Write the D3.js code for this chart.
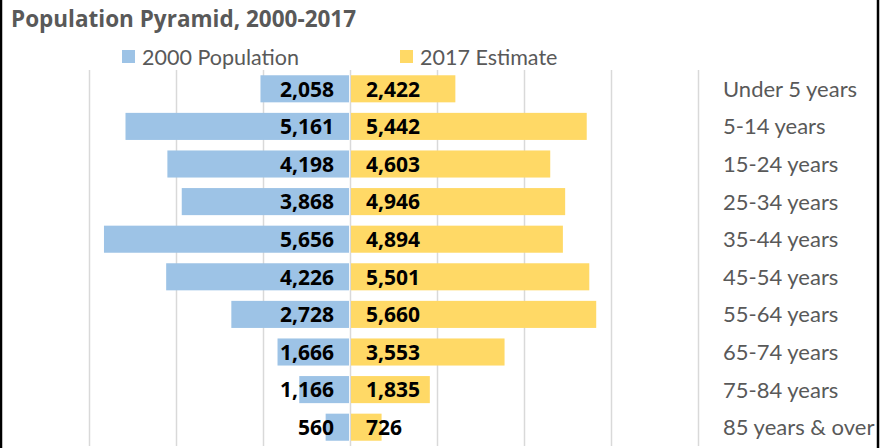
<!DOCTYPE html>
<html><head><meta charset="utf-8">
<script src="https://cdn.jsdelivr.net/npm/d3@7"></script>
<style>body{margin:0;background:#fff;}svg{display:block;}</style>
</head><body>
<svg id="c" width="884" height="448"></svg>
<script>
const categories = ["Under 5 years","5-14 years","15-24 years","25-34 years","35-44 years","45-54 years","55-64 years","65-74 years","75-84 years","85 years & over"];
const pop2000 = [2058,5161,4198,3868,5656,4226,2728,1666,1166,560];
const est2017 = [2422,5442,4603,4946,4894,5501,5660,3553,1835,726];
const xTicks = [-6000,-4000,-2000,0,2000,4000,6000,8000];
const seriesNames = ["2000 Population","2017 Estimate"];
const colors = ["#9DC3E6","#FFD966"];

const svg = d3.select("#c");
const fontR = "Lato, 'Open Sans', sans-serif";
const fontB = "'Open Sans', Lato, sans-serif";
const x = d3.scaleLinear().domain([-6000, 8000]).range([89, 698]);
const y = d3.scaleBand().domain(categories).range([70, 446]).paddingInner(0.28).paddingOuter(0.14);

// border
svg.append("rect").attr("x",1).attr("y",-2).attr("width",877).attr("height",460).attr("fill","none").attr("stroke","#000").attr("stroke-width",2.5);

// gridlines
svg.append("g").selectAll("line").data(xTicks).join("line")
  .attr("x1",d=>Math.round(x(d))+0.5).attr("x2",d=>Math.round(x(d))+0.5)
  .attr("y1",70).attr("y2",446).attr("stroke","#D9D9D9").attr("stroke-width",1.5);

// bars
svg.append("g").selectAll("rect").data(pop2000).join("rect")
  .attr("x",d=>x(-d)).attr("width",d=>x(0)-x(-d)-1)
  .attr("y",(d,i)=>y(categories[i])).attr("height",y.bandwidth()).attr("fill",colors[0]);
svg.append("g").selectAll("rect").data(est2017).join("rect")
  .attr("x",x(0)+1).attr("width",d=>x(d)-x(0)-1)
  .attr("y",(d,i)=>y(categories[i])).attr("height",y.bandwidth()).attr("fill",colors[1]);

const fmt = d3.format(",");
svg.append("g").selectAll("text").data(pop2000).join("text")
  .attr("x",x(0)-16).attr("y",(d,i)=>y(categories[i])+y.bandwidth()/2).attr("dy","0.37em")
  .attr("text-anchor","end").attr("font-family",fontB).attr("font-weight","bold").attr("font-size",21).attr("fill","#000")
  .text(d=>fmt(d));
svg.append("g").selectAll("text").data(est2017).join("text")
  .attr("x",x(0)+16).attr("y",(d,i)=>y(categories[i])+y.bandwidth()/2).attr("dy","0.37em")
  .attr("text-anchor","start").attr("font-family",fontB).attr("font-weight","bold").attr("font-size",21).attr("fill","#000")
  .text(d=>fmt(d));

// category labels
svg.append("g").selectAll("text").data(categories).join("text")
  .attr("x",723).attr("y",d=>y(d)+y.bandwidth()/2).attr("dy","0.36em")
  .attr("font-family",fontR).attr("font-size",22).attr("fill","#595959").text(d=>d);

// title
svg.append("text").attr("x",11).attr("y",27).attr("font-family",fontB).attr("font-weight","bold")
  .attr("font-size",22.5).attr("fill","#595959").text("Population Pyramid, 2000-2017");

// legend
const legX = [122, 400];
seriesNames.forEach((n,i)=>{
  svg.append("rect").attr("x",legX[i]).attr("y",50).attr("width",13).attr("height",13).attr("fill",colors[i]);
  svg.append("text").attr("x",legX[i]+20).attr("y",57).attr("dy","0.38em").attr("font-family",fontR)
    .attr("font-size",21.5).attr("fill","#595959").text(n);
});
</script>
</body></html>
